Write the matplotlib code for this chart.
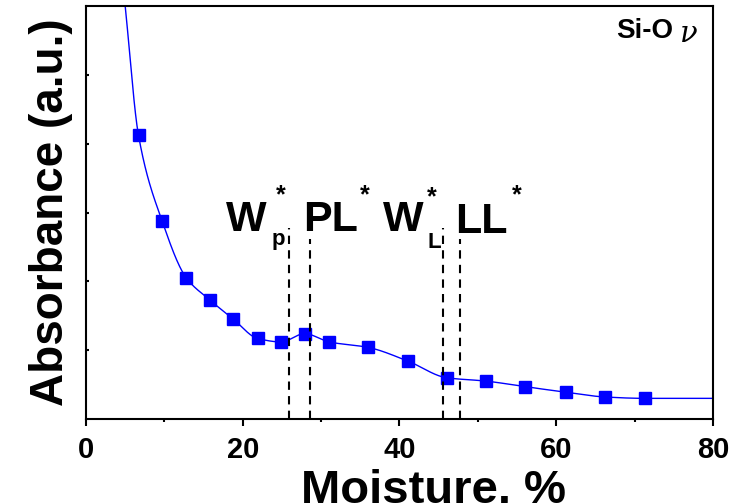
import numpy as np
import matplotlib
matplotlib.use("Agg")
import matplotlib.pyplot as plt

# measured points (moisture %, absorbance a.u.)
moisture = [6.7, 9.7, 12.8, 15.8, 18.8, 21.9, 24.9, 27.9, 31.0, 36.0,
            41.1, 46.0, 51.1, 56.0, 61.2, 66.2, 71.3]
absorbance = [4.12, 2.88, 2.05, 1.73, 1.45, 1.17, 1.12, 1.24, 1.12, 1.04,
              0.84, 0.60, 0.55, 0.47, 0.39, 0.32, 0.30]

# ends of the fitted curve beyond the measured points
curve_start = (5.0, 6.0)
curve_end = (80.0, 0.30)

# characteristic moisture limits: x, height of dashed marker
limits_x = [25.9, 28.6, 45.5, 47.7]
limits_top = [2.78, 2.62, 2.78, 2.62]


def pchip(x, y, xs):
    # monotone cubic (Fritsch-Carlson) for a smooth curve through the points
    x = np.asarray(x, float)
    y = np.asarray(y, float)
    h = np.diff(x)
    d = np.diff(y) / h
    m = np.zeros_like(y)
    for k in range(1, len(x) - 1):
        if d[k - 1] * d[k] <= 0:
            m[k] = 0.0
        else:
            w1 = 2 * h[k] + h[k - 1]
            w2 = h[k] + 2 * h[k - 1]
            m[k] = (w1 + w2) / (w1 / d[k - 1] + w2 / d[k])
    m[0] = d[0]
    m[-1] = d[-1]
    idx = np.clip(np.searchsorted(x, xs) - 1, 0, len(x) - 2)
    t = (xs - x[idx]) / h[idx]
    h00 = 2 * t**3 - 3 * t**2 + 1
    h10 = t**3 - 2 * t**2 + t
    h01 = -2 * t**3 + 3 * t**2
    h11 = t**3 - t**2
    return (h00 * y[idx] + h10 * h[idx] * m[idx]
            + h01 * y[idx + 1] + h11 * h[idx] * m[idx + 1])


plt.rcParams["font.family"] = ["Liberation Sans", "DejaVu Sans"]
plt.rcParams["font.weight"] = "bold"

fig = plt.figure(figsize=(7.42, 5.03), dpi=100)
ax = fig.add_axes([0.1159, 0.167, 0.845, 0.821])

cx = [curve_start[0]] + moisture + [curve_end[0]]
cy = [curve_start[1]] + absorbance + [curve_end[1]]
xs = np.linspace(cx[0], cx[-1], 800)
ax.plot(xs, pchip(cx, cy, xs), color="#0000ff", linewidth=1.0)
ax.plot(moisture, absorbance, linestyle="none", marker="s", markersize=8.5,
        color="#0000ff")

for x, top in zip(limits_x, limits_top):
    ax.plot([x, x], [0, top], color="black", linestyle=(0, (4, 3)), linewidth=1.5)

# annotations
big = dict(fontsize=31, fontweight="bold", ha="left", va="baseline")
star = dict(fontsize=18, fontweight="bold", ha="center", va="center")
sub = dict(fontsize=16, fontweight="bold", ha="left", va="baseline")
ax.text(17.8, 2.73, "W", **big)
ax.text(24.8, 3.25, "*", **star)
ax.text(23.7, 2.53, "p", **sub)
ax.text(27.7, 2.73, "PL", **big)
ax.text(35.6, 3.25, "*", **star)
ax.text(37.9, 2.73, "W", **big)
ax.text(44.1, 3.22, "*", **star)
ax.text(43.6, 2.48, "L", **sub)
ax.text(47.1, 2.70, "LL", **big)
ax.text(54.9, 3.25, "*", **star)

ax.text(0.937, 0.972, "Si-O", transform=ax.transAxes, fontsize=20,
        fontweight="bold", ha="right", va="top")
ax.text(0.975, 0.965, "\u03bd", transform=ax.transAxes, fontsize=21,
        fontweight="normal", fontstyle="italic", family="DejaVu Serif",
        ha="right", va="top")

ax.set_xlim(0, 80)
ax.set_ylim(0, 6)
ax.set_xticks([0, 20, 40, 60, 80])
ax.set_xticks([10, 30, 50, 70], minor=True)
ax.set_yticks([1, 2, 3, 4, 5])
ax.set_yticklabels([])
ax.tick_params(axis="x", which="major", direction="out", length=5, width=1.5,
               labelsize=21, pad=7)
ax.tick_params(axis="x", which="minor", direction="out", length=2.5, width=1.5)
ax.tick_params(axis="y", direction="in", length=2.5, width=1.5)
for s in ax.spines.values():
    s.set_linewidth(1.5)

ax.set_xlabel("Moisture, %", fontsize=34, fontweight="bold", labelpad=4)
ax.xaxis.set_label_coords(0.555, -0.12, transform=ax.transAxes)
ax.xaxis.label.set_va("top")
ax.set_ylabel("Absorbance (a.u.)", fontsize=33, fontweight="bold", labelpad=6)

fig.savefig("out.png", dpi=100)
